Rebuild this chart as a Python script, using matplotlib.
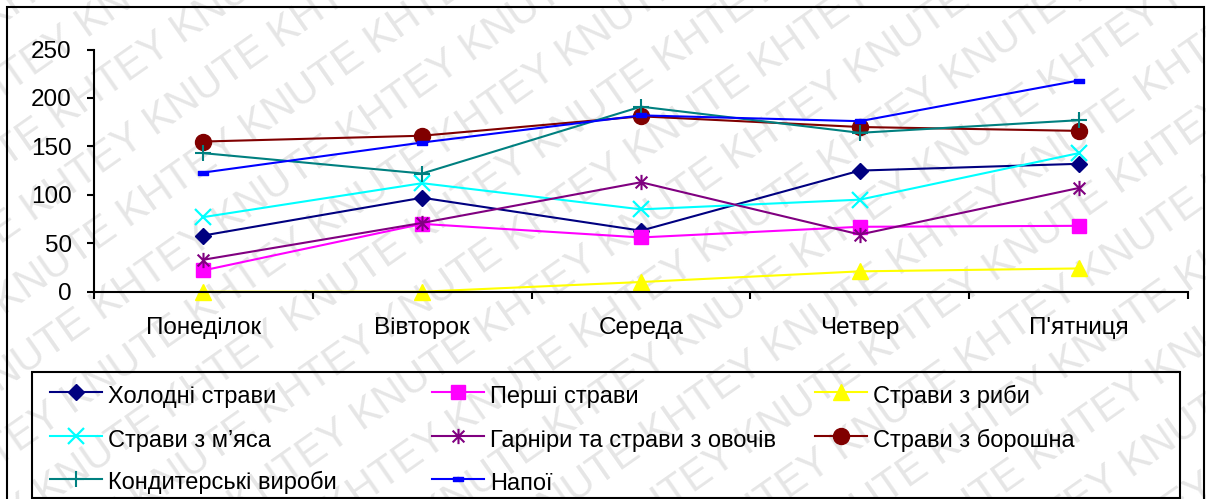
import numpy as np
import matplotlib
matplotlib.use("Agg")
import matplotlib.pyplot as plt
from matplotlib.path import Path
from matplotlib.patches import Rectangle

plt.rcParams['font.family'] = ['Liberation Sans', 'DejaVu Sans']

days = ["Понеділок", "Вівторок", "Середа", "Четвер", "П'ятниця"]

cold_dishes = [58, 97, 63, 125, 132]
first_courses = [22, 70, 56, 67, 68]
fish_dishes = [0, 0, 10, 21, 24]
meat_dishes = [77, 112, 85, 95, 143]
side_dishes = [33, 71, 113, 59, 107]
flour_dishes = [155, 161, 181, 170, 166]
confectionery = [143, 122, 191, 164, 177]
drinks = [123, 154, 182, 176, 218]

y_ticks = [0, 50, 100, 150, 200, 250]

W, H = 1206, 499
fig = plt.figure(figsize=(W / 100, H / 100), dpi=100)
fig.patch.set_facecolor('white')

# diagonal watermark behind everything
wm_angle = 35
wm_color = '#e6e6e6'
wm_text = "KNUTE KHTEY " * 10
th = np.deg2rad(wm_angle)
nx, ny = -np.sin(th), np.cos(th)
cx, cy = W / 2, H / 2
spacing = 60
for k in range(-12, 13):
    shift = (k % 2) * 75
    px = cx + k * spacing * nx + shift * np.cos(th)
    py = cy + k * spacing * ny + shift * np.sin(th)
    fig.text(px / W, py / H, wm_text, rotation=wm_angle, rotation_mode='anchor',
             ha='center', va='center', fontsize=30, color=wm_color, zorder=-10)

# outer frame
fig.patches.append(Rectangle((7 / W, -0.1), (1204 - 7) / W, 1.1 - 7 / H,
                             transform=fig.transFigure, fill=False,
                             edgecolor='black', linewidth=1.5, zorder=1))

ax_left, ax_right = 94 / W, 1188 / W
ax_bottom, ax_top = 1 - 291.7 / H, 1 - 49.5 / H
ax = fig.add_axes([ax_left, ax_bottom, ax_right - ax_left, ax_top - ax_bottom])
ax.patch.set_alpha(0)

star_path = Path([(-1, -1), (1, 1), (-1, 1), (1, -1), (0, -1.3), (0, 1.3)],
                 [Path.MOVETO, Path.LINETO, Path.MOVETO, Path.LINETO,
                  Path.MOVETO, Path.LINETO])
dash_path = Path([(-1, -0.45), (1, -0.45), (1, 0.45), (-1, 0.45), (-1, -0.45)],
                 [Path.MOVETO, Path.LINETO, Path.LINETO, Path.LINETO, Path.CLOSEPOLY])

series = [
    ("Холодні страви", cold_dishes, '#000080', dict(marker='D', markersize=7.8)),
    ("Перші страви", first_courses, '#FF00FF', dict(marker='s', markersize=10.5)),
    ("Страви з риби", fish_dishes, '#FFFF00', dict(marker='^', markersize=12)),
    ("Страви з м’яса", meat_dishes, '#00FFFF',
     dict(marker='x', markersize=11, markeredgewidth=1.6)),
    ("Гарніри та страви з овочів", side_dishes, '#800080',
     dict(marker=star_path, markersize=11, markeredgewidth=1.5, markerfacecolor='none')),
    ("Страви з борошна", flour_dishes, '#800000', dict(marker='o', markersize=11.5)),
    ("Кондитерські вироби", confectionery, '#008080',
     dict(marker='+', markersize=12, markeredgewidth=1.5)),
    ("Напої", drinks, '#0000FF', dict(marker=dash_path, markersize=7)),
]

lines = []
for label, vals, color, mk in series:
    ln, = ax.plot(days, vals, color=color, linewidth=1.5, label=label,
                  markerfacecolor=mk.pop('markerfacecolor', color),
                  markeredgecolor=color, clip_on=False, **mk)
    lines.append(ln)

ax.set_xlim(-0.5, len(days) - 0.5)
ax.set_ylim(y_ticks[0], y_ticks[-1])
ax.set_yticks(y_ticks)
for s in ('top', 'right'):
    ax.spines[s].set_visible(False)
for s in ('left', 'bottom'):
    ax.spines[s].set_linewidth(1.5)
ax.tick_params(axis='y', direction='out', length=5, width=1.5, pad=11, labelsize=17.5)
ax.tick_params(axis='x', which='major', length=0, pad=18, labelsize=17.5)
ax.set_xticks(np.arange(-0.5, len(days)), minor=True)
ax.tick_params(axis='x', which='minor', direction='out', length=5, width=1.5)

# legend box with a 3-column grid: key samples plus baseline-aligned labels
fig.patches.append(Rectangle((32 / W, 1 - 497.5 / H), (1180 - 32) / W, (497.5 - 372) / H,
                             transform=fig.transFigure, fill=False,
                             edgecolor='black', linewidth=1.5, zorder=1))
col_x = [50, 432, 815]
row_y = [394, 438, 481]
key_len = 52
for i, ln in enumerate(lines):
    r, c = divmod(i, 3)
    fig.legend([ln], [""], loc='center left',
               bbox_to_anchor=(col_x[c] / W, 1 - row_y[r] / H),
               frameon=False, fontsize=17, borderpad=0, borderaxespad=0,
               handlelength=key_len / (17 * 100 / 72), handletextpad=0)
    fig.text((col_x[c] + key_len + 6) / W, 1 - (row_y[r] + 8.5) / H, series[i][0],
             fontsize=17, color='black', ha='left', va='baseline')

fig.savefig("out.png", dpi=100, facecolor='white')
